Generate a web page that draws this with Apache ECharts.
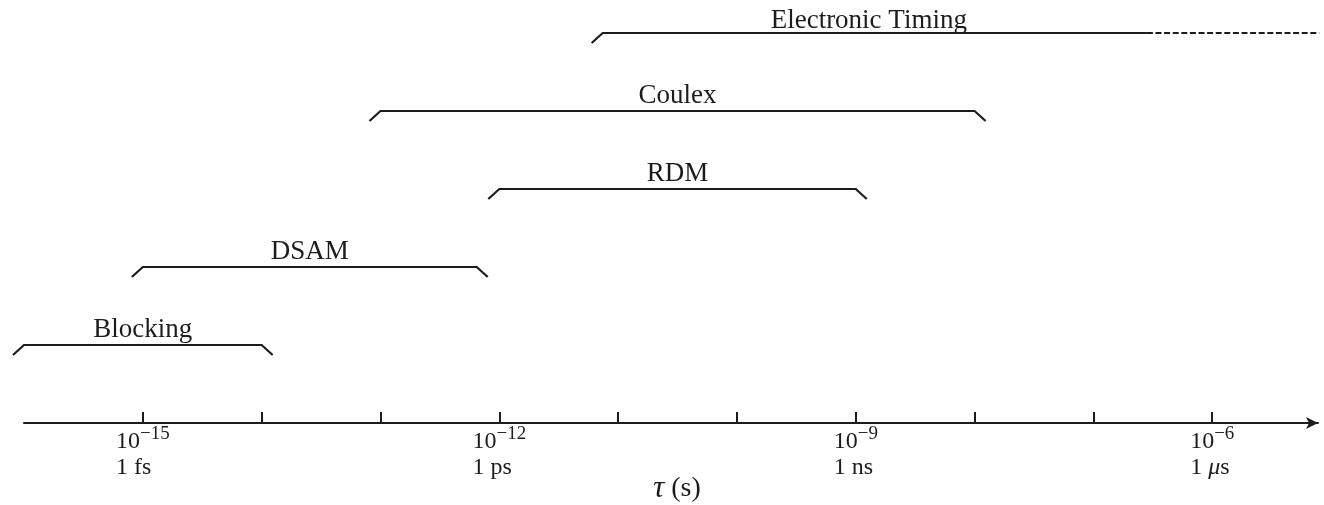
<!DOCTYPE html>
<html>
<head>
<meta charset="utf-8">
<style>
  html, body { margin: 0; padding: 0; background: #ffffff; }
  #chart { width: 1324px; height: 505px; }
</style>
<script src="https://cdn.jsdelivr.net/npm/echarts@6/dist/echarts.min.js"></script>
</head>
<body>
<div id="chart"></div>
<script>
// Lifetime ranges covered by each technique, as log10(tau / s).
const techniques = ['Blocking', 'DSAM', 'RDM', 'Coulex', 'Electronic Timing'];
const rowLevel   = [1, 2, 3, 4, 5];
const logTauFrom = [-16, -15, -12, -13, -11.13];
const logTauTo   = [-14, -12.19, -9, -8, -6.55];
// Open-ended continuation (drawn dashed); null where the range is closed.
const logTauOpenTo = [null, null, null, null, -5.1];

// Axis ticks: every decade, labelled every third decade.
const tickDecades = [-15, -14, -13, -12, -11, -10, -9, -8, -7, -6];
const labelDecades = [-15, -12, -9, -6];
const unitLabels = ['1 fs', '1 ps', '1 ns', '1 μs'];

const INK = '#1c1c1c';
const SERIF = '"Liberation Serif", "Times New Roman", serif';

const data = techniques.map((name, i) => ({
  name: name,
  value: [rowLevel[i], logTauFrom[i], logTauTo[i], logTauOpenTo[i] == null ? '-' : logTauOpenTo[i]]
}));

function renderBracket(params, api) {
  const level = api.value(0);
  const from = api.coord([api.value(1), level]);
  const to = api.coord([api.value(2), level]);
  const openTo = api.value(3);
  const isOpen = !isNaN(openTo);
  const y = from[1];
  const hookX = 11, hookY = 10;

  const pts = [[from[0] - hookX, y + hookY], [from[0], y], [to[0], y]];
  if (!isOpen) pts.push([to[0] + hookX, y + hookY]);

  const children = [{
    type: 'polyline',
    shape: { points: pts },
    style: { stroke: INK, lineWidth: 2.2, fill: null, lineJoin: 'miter' }
  }];

  if (isOpen) {
    const end = api.coord([openTo, level]);
    children.push({
      type: 'line',
      shape: { x1: to[0], y1: y, x2: end[0], y2: y },
      style: { stroke: INK, lineWidth: 2.2, lineDash: [6, 2.6] }
    });
  }

  children.push({
    type: 'text',
    x: (from[0] + to[0]) / 2 - (isOpen ? 6 : 0),
    y: y - (isOpen ? -1 : 2),
    style: {
      text: techniques[params.dataIndex],
      fill: INK,
      font: '27px ' + SERIF,
      align: 'center',
      verticalAlign: 'bottom'
    }
  });

  return { type: 'group', children: children };
}

function tickLabel(v) {
  const i = labelDecades.indexOf(v);
  if (i < 0) return '';
  const unit = '{u|' + unitLabels[i].replace('μ', '}{mu|μ}{u|') + '}';
  return '{b|10}{sup|\u2212' + Math.abs(v) + '}\n' + unit;
}

const chart = echarts.init(document.getElementById('chart'), null, { renderer: 'canvas' });

chart.setOption({
  animation: false,
  backgroundColor: '#ffffff',
  grid: { left: 24, right: 6, top: 33, bottom: 82, outerBoundsMode: 'none', containLabel: false },
  xAxis: {
    type: 'value',
    min: -16,
    max: -5.11,
    splitLine: { show: false },
    axisLine: {
      show: true,
      symbol: ['none', 'arrow'],
      symbolSize: [9, 12],
      lineStyle: { color: INK, width: 2 }
    },
    axisTick: {
      show: true,
      inside: true,
      length: 11,
      customValues: tickDecades,
      lineStyle: { color: INK, width: 2 }
    },
    axisLabel: {
      show: true,
      customValues: labelDecades,
      margin: 2,
      align: 'center',
      formatter: tickLabel,
      color: INK,
      fontFamily: SERIF,
      rich: {
        b:   { fontFamily: SERIF, fontSize: 24, lineHeight: 29, color: INK, align: 'left', verticalAlign: 'bottom' },
        sup: { fontFamily: SERIF, fontSize: 19, lineHeight: 16, color: INK, align: 'left', verticalAlign: 'top' },
        u:   { fontFamily: SERIF, fontSize: 24, lineHeight: 27, color: INK, align: 'left' },
        mu:  { fontFamily: SERIF, fontSize: 24, lineHeight: 27, color: INK, align: 'left', fontStyle: 'italic' }
      }
    },
    name: '{t|τ}{n| (s)}',
    nameLocation: 'middle',
    nameGap: 50,
    nameMoveOverlap: false,
    nameTextStyle: {
      padding: [0, 0, 0, 12],
      rich: {
        t: { fontFamily: SERIF, fontSize: 31, fontStyle: 'italic', color: INK },
        n: { fontFamily: SERIF, fontSize: 28, color: INK }
      }
    }
  },
  yAxis: {
    type: 'value',
    min: 0,
    max: 5,
    show: false
  },
  series: [{
    type: 'custom',
    renderItem: renderBracket,
    encode: { x: [1, 2], y: 0 },
    data: data
  }]
});
</script>
</body>
</html>
